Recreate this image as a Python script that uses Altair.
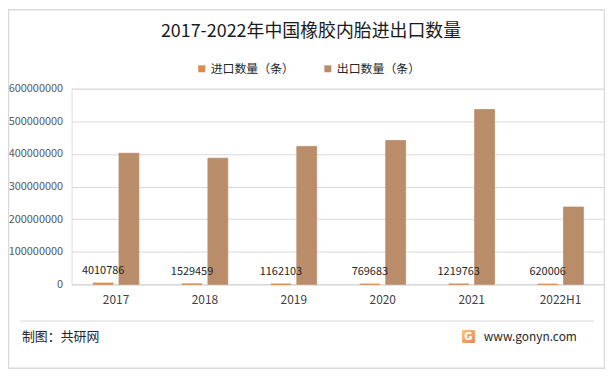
import altair as alt
import pandas as pd

years = ["2017", "2018", "2019", "2020", "2021", "2022H1"]
series = ["进口数量（条）", "出口数量（条）"]
imports = [4010786, 1529459, 1162103, 769683, 1219763, 620006]
exports = [402000000, 387000000, 423000000, 441000000, 536000000, 237000000]
y_ticks = [0, 100000000, 200000000, 300000000, 400000000, 500000000, 600000000]
colors = ["#DC8A4C", "#B98C6A"]
title_text = "2017-2022年中国橡胶内胎进出口数量"
source_text = "制图：共研网"
site_text = "www.gonyn.com"

FONT = "Noto Sans CJK SC"

rows = []
for y, v in zip(years, imports):
    rows.append({"year": y, "series": series[0], "value": v})
for y, v in zip(years, exports):
    rows.append({"year": y, "series": series[1], "value": v})
df = pd.DataFrame(rows)

x_enc = alt.X("year:N", sort=years,
              scale=alt.Scale(paddingInner=0.486, paddingOuter=0.243),
              axis=alt.Axis(title=None, labelAngle=0, ticks=False, domainColor="#d9d9d9",
                            labelFontSize=12, labelColor="#404040", labelPadding=10,
                            labelFont=FONT, grid=False))
xo_enc = alt.XOffset("series:N", sort=series,
                     scale=alt.Scale(domain=series, paddingInner=0.231, paddingOuter=0))
y_enc = alt.Y("value:Q",
              scale=alt.Scale(domain=[0, 600000000], nice=False),
              axis=alt.Axis(title=None, values=y_ticks, format="d", ticks=False, domain=False,
                            gridColor="#d9d9d9", labelFontSize=11, labelColor="#595959",
                            labelPadding=9, labelFont=FONT))

bars = alt.Chart(df).mark_bar(strokeWidth=0.8).encode(
    x=x_enc, xOffset=xo_enc, y=y_enc,
    color=alt.Color("series:N", sort=series,
                    scale=alt.Scale(domain=series, range=colors),
                    legend=alt.Legend(title=None, orient="none", direction="horizontal",
                                      legendX=125, legendY=-26, symbolType="square",
                                      symbolSize=49, symbolStrokeWidth=0,
                                      labelFontSize=12, labelFont=FONT, labelColor="#262626",
                                      columnPadding=27, labelOffset=3)),
    stroke=alt.Stroke("series:N", sort=series,
                      scale=alt.Scale(domain=series, range=colors), legend=None),
)

labels = alt.Chart(df).transform_filter(
    alt.datum.series == series[0]
).mark_text(fontSize=11, font=FONT, color="#262626", baseline="alphabetic", dy=-9).encode(
    x=x_enc, xOffset=xo_enc, y=y_enc, text=alt.Text("value:Q", format="d")
)

title = alt.Chart(pd.DataFrame({"t": [title_text]})).mark_text(
    fontSize=18, font=FONT, color="#1a1a1a", align="center", baseline="middle"
).encode(text="t:N", x=alt.value(241), y=alt.value(-57))

border = alt.Chart(pd.DataFrame({"a": [1]})).mark_rect(
    fillOpacity=0, stroke="#d9d9d9", strokeWidth=1.5
).encode(x=alt.value(-63.5), x2=alt.value(536.5), y=alt.value(-79.5), y2=alt.value(281.5))

footer_line = alt.Chart(pd.DataFrame({"a": [1]})).mark_rule(
    color="#d9d9d9", strokeWidth=1
).encode(x=alt.value(-52), x2=alt.value(526), y=alt.value(234))

source = alt.Chart(pd.DataFrame({"t": [source_text]})).mark_text(
    fontSize=13, font=FONT, color="#262626", align="left", baseline="middle"
).encode(text="t:N", x=alt.value(-50), y=alt.value(250))

site = alt.Chart(pd.DataFrame({"t": [site_text]})).mark_text(
    fontSize=12, font=FONT, color="#262626", align="left", baseline="middle"
).encode(text="t:N", x=alt.value(415), y=alt.value(250))

logo = alt.Chart(pd.DataFrame({"a": [1]})).mark_rect(
    fill=alt.Gradient(gradient="linear", stops=[alt.GradientStop(color="#F9C57C", offset=0),
                                                alt.GradientStop(color="#F0824E", offset=1)],
                      x1=0, x2=1, y1=0, y2=1),
    cornerRadius=1
).encode(x=alt.value(393), x2=alt.value(406), y=alt.value(243), y2=alt.value(256))

logo_g = alt.Chart(pd.DataFrame({"t": ["G"]})).mark_text(
    fontSize=10, font="DejaVu Sans", fontWeight="bold", color="white", align="center", baseline="middle"
).encode(text="t:N", x=alt.value(399.5), y=alt.value(250))

chart = alt.layer(border, bars, labels, title, footer_line, source, logo, logo_g, site).properties(
    width=537, height=197,
    autosize=alt.AutoSizeParams(type="none"),
    padding={"left": 64, "top": 80, "right": 0, "bottom": 85},
).configure_view(stroke=None).configure(background="white")

chart.save("out.html", embed_options={"renderer": "svg", "actions": False})
